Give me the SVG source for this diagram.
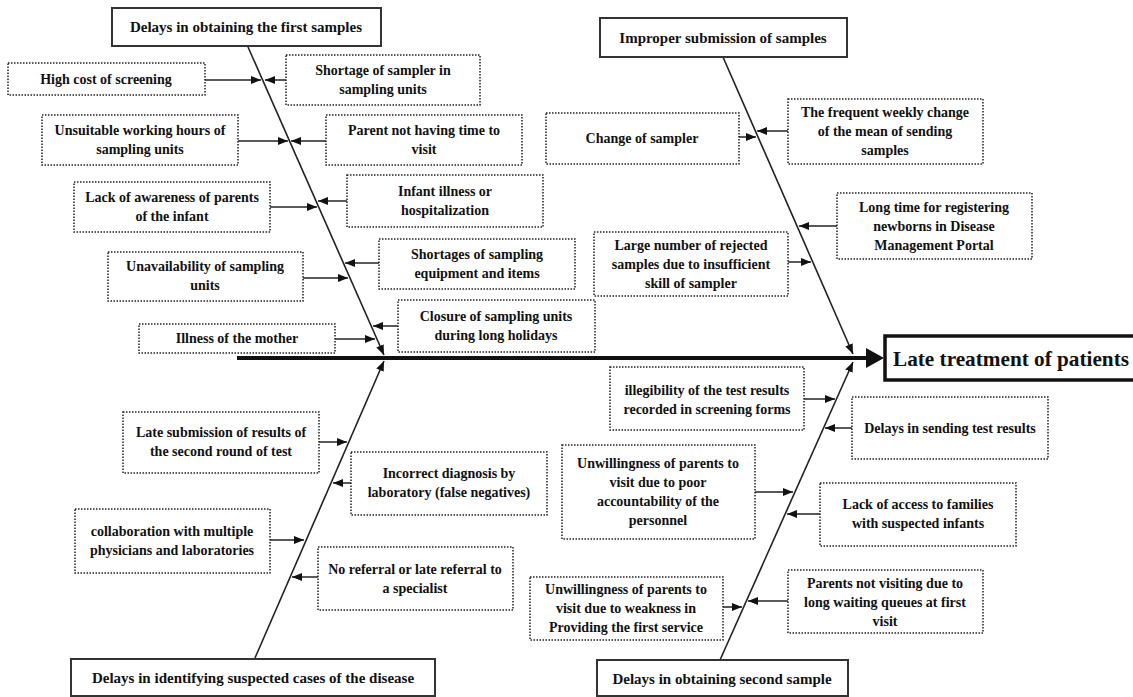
<svg xmlns="http://www.w3.org/2000/svg" width="1133" height="697" viewBox="0 0 1133 697">
<defs>
<marker id="ah" markerWidth="10" markerHeight="8" refX="10" refY="4" orient="auto" markerUnits="userSpaceOnUse"><path d="M0,0 L10,4 L0,8 z" fill="#111"/></marker>
<style>
.c{fill:#fff;stroke:#222;stroke-width:1.5;stroke-dasharray:1.5 1.5}
.h{fill:#fff;stroke:#333;stroke-width:2}
.t{font-family:"Liberation Serif","Times New Roman",serif;font-weight:bold;font-size:14px;text-anchor:middle;fill:#111}
.ht{font-family:"Liberation Serif","Times New Roman",serif;font-weight:bold;font-size:15px;text-anchor:middle;fill:#111}
.a{stroke:#222;stroke-width:1.5;fill:none;marker-end:url(#ah)}
.b{stroke:#222;stroke-width:1.6;fill:none;marker-end:url(#ah)}
</style>
</defs>
<rect width="1133" height="697" fill="#fff"/>
<g id="connectors">
<line x1="237" y1="358" x2="868" y2="358" stroke="#111" stroke-width="4"/>
<polygon points="866,348 884,358 866,368" fill="#111"/>
<line class="b" x1="248" y1="47" x2="384" y2="355"/>
<line class="b" x1="255" y1="658" x2="384" y2="361"/>
<line class="b" x1="723" y1="57" x2="853" y2="354"/>
<line class="b" x1="720" y1="660" x2="853" y2="362"/>
<line class="a" x1="205" y1="80" x2="261" y2="80"/>
<line class="a" x1="286" y1="80" x2="265" y2="80"/>
<line class="a" x1="238" y1="141" x2="288" y2="141"/>
<line class="a" x1="326" y1="141" x2="291" y2="141"/>
<line class="a" x1="270" y1="207" x2="317" y2="207"/>
<line class="a" x1="347" y1="201" x2="318" y2="201"/>
<line class="a" x1="303" y1="278" x2="348" y2="278"/>
<line class="a" x1="379" y1="263" x2="345" y2="263"/>
<line class="a" x1="335" y1="339" x2="375" y2="339"/>
<line class="a" x1="398" y1="326" x2="373" y2="326"/>
<line class="a" x1="319" y1="442" x2="347" y2="442"/>
<line class="a" x1="351" y1="483" x2="333" y2="483"/>
<line class="a" x1="270" y1="540" x2="304" y2="540"/>
<line class="a" x1="318" y1="577" x2="292" y2="577"/>
<line class="a" x1="739" y1="137" x2="756" y2="137"/>
<line class="a" x1="788" y1="131" x2="757" y2="131"/>
<line class="a" x1="837" y1="226" x2="799" y2="226"/>
<line class="a" x1="788" y1="262" x2="811" y2="262"/>
<line class="a" x1="804" y1="399" x2="835" y2="399"/>
<line class="a" x1="852" y1="428" x2="825" y2="428"/>
<line class="a" x1="755" y1="492" x2="793" y2="492"/>
<line class="a" x1="820" y1="514" x2="787" y2="514"/>
<line class="a" x1="723" y1="607" x2="742" y2="607"/>
<line class="a" x1="788" y1="601" x2="748" y2="601"/>
</g>
<g id="head"><rect x="885" y="336" width="260" height="44" fill="#fff" stroke="#111" stroke-width="3.5"/><text x="893" y="366" font-family="'Liberation Serif','Times New Roman',serif" font-weight="bold" font-size="21" textLength="236" lengthAdjust="spacingAndGlyphs" fill="#111">Late treatment of patients</text></g>
<g id="h1"><rect class="h" x="112" y="8" width="269" height="38"/><text class="ht" x="246" y="32">Delays in obtaining the first samples</text></g>
<g id="h2"><rect class="h" x="600" y="18" width="247" height="39"/><text class="ht" x="723" y="43">Improper submission of samples</text></g>
<g id="h3"><rect class="h" x="71" y="659" width="364" height="37"/><text class="ht" x="253" y="683">Delays in identifying suspected cases of the disease</text></g>
<g id="h4"><rect class="h" x="597" y="660" width="251" height="36"/><text class="ht" x="722" y="684">Delays in obtaining second sample</text></g>
<g id="n1"><rect class="c" x="8" y="63" width="197" height="32"/><text class="t" x="106" y="84">High cost of screening</text></g>
<g id="n2"><rect class="c" x="286" y="55" width="194" height="50"/><text class="t" x="383" y="75">Shortage of sampler in<tspan x="383" dy="19">sampling units</tspan></text></g>
<g id="n3"><rect class="c" x="42" y="115" width="196" height="50"/><text class="t" x="140" y="135">Unsuitable working hours of<tspan x="140" dy="19">sampling units</tspan></text></g>
<g id="n4"><rect class="c" x="326" y="115" width="196" height="50"/><text class="t" x="424" y="135">Parent not having time to<tspan x="424" dy="19">visit</tspan></text></g>
<g id="n5"><rect class="c" x="74" y="182" width="196" height="50"/><text class="t" x="172" y="202">Lack of awareness of parents<tspan x="172" dy="19">of the infant</tspan></text></g>
<g id="n6"><rect class="c" x="347" y="175" width="196" height="52"/><text class="t" x="445" y="196">Infant illness or<tspan x="445" dy="19">hospitalization</tspan></text></g>
<g id="n7"><rect class="c" x="108" y="252" width="195" height="49"/><text class="t" x="205" y="271">Unavailability of sampling<tspan x="205" dy="19">units</tspan></text></g>
<g id="n8"><rect class="c" x="379" y="239" width="196" height="50"/><text class="t" x="477" y="259">Shortages of sampling<tspan x="477" dy="19">equipment and items</tspan></text></g>
<g id="n9"><rect class="c" x="139" y="324" width="196" height="29"/><text class="t" x="237" y="343">Illness of the mother</text></g>
<g id="n10"><rect class="c" x="398" y="300" width="197" height="52"/><text class="t" x="496" y="321">Closure of sampling units<tspan x="496" dy="19">during long holidays</tspan></text></g>
<g id="n11"><rect class="c" x="123" y="412" width="196" height="61"/><text class="t" x="221" y="437">Late submission of results of<tspan x="221" dy="19">the second round of test</tspan></text></g>
<g id="n12"><rect class="c" x="351" y="452" width="196" height="63"/><text class="t" x="449" y="478">Incorrect diagnosis by<tspan x="449" dy="19">laboratory (false negatives)</tspan></text></g>
<g id="n13"><rect class="c" x="75" y="509" width="195" height="64"/><text class="t" x="172" y="536">collaboration with multiple<tspan x="172" dy="19">physicians and laboratories</tspan></text></g>
<g id="n14"><rect class="c" x="318" y="547" width="195" height="63"/><text class="t" x="415" y="574">No referral or late referral to<tspan x="415" dy="19">a specialist</tspan></text></g>
<g id="n15"><rect class="c" x="546" y="113" width="193" height="51"/><text class="t" x="642" y="143">Change of sampler</text></g>
<g id="n16"><rect class="c" x="788" y="99" width="195" height="65"/><text class="t" x="885" y="117">The frequent weekly change<tspan x="885" dy="19">of the mean of sending</tspan><tspan x="885" dy="19">samples</tspan></text></g>
<g id="n17"><rect class="c" x="837" y="193" width="195" height="66"/><text class="t" x="934" y="212">Long time for registering<tspan x="934" dy="19">newborns in Disease</tspan><tspan x="934" dy="19">Management Portal</tspan></text></g>
<g id="n18"><rect class="c" x="594" y="232" width="194" height="64"/><text class="t" x="691" y="250">Large number of rejected<tspan x="691" dy="19">samples due to insufficient</tspan><tspan x="691" dy="19">skill of sampler</tspan></text></g>
<g id="n19"><rect class="c" x="610" y="367" width="194" height="63"/><text class="t" x="707" y="395">illegibility of the test results<tspan x="707" dy="19">recorded in screening forms</tspan></text></g>
<g id="n20"><rect class="c" x="852" y="397" width="196" height="62"/><text class="t" x="950" y="433">Delays in sending test results</text></g>
<g id="n21"><rect class="c" x="562" y="445" width="193" height="94"/><text class="t" x="658" y="468">Unwillingness of parents to<tspan x="658" dy="19">visit due to poor</tspan><tspan x="658" dy="19">accountability of the</tspan><tspan x="658" dy="19">personnel</tspan></text></g>
<g id="n22"><rect class="c" x="820" y="483" width="196" height="63"/><text class="t" x="918" y="509">Lack of access to families<tspan x="918" dy="19">with suspected infants</tspan></text></g>
<g id="n23"><rect class="c" x="530" y="577" width="193" height="63"/><text class="t" x="626" y="594">Unwillingness of parents to<tspan x="626" dy="19">visit due to weakness in</tspan><tspan x="626" dy="19">Providing the first service</tspan></text></g>
<g id="n24"><rect class="c" x="788" y="570" width="195" height="63"/><text class="t" x="885" y="588">Parents not visiting due to<tspan x="885" dy="19">long waiting queues at first</tspan><tspan x="885" dy="19">visit</tspan></text></g>
</svg>
